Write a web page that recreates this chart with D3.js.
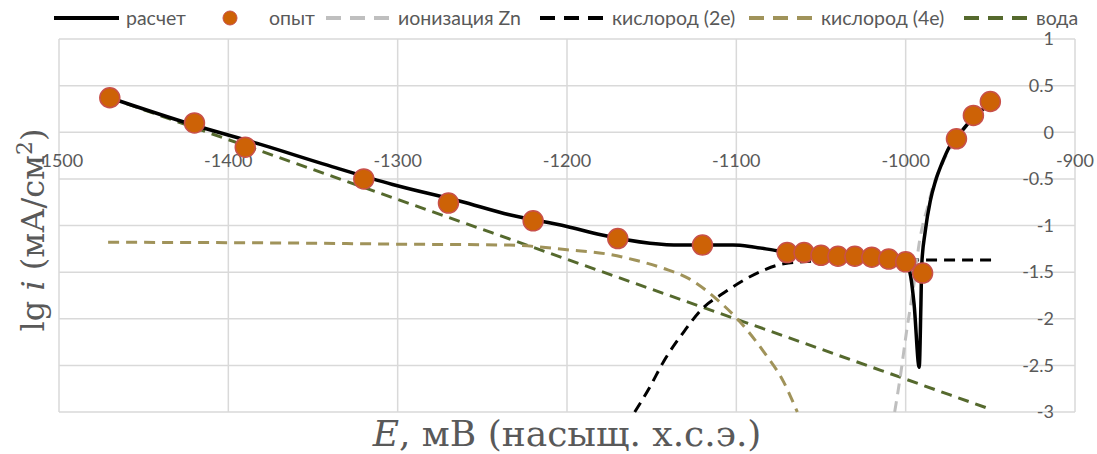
<!DOCTYPE html>
<html>
<head>
<meta charset="utf-8">
<script src="https://cdn.jsdelivr.net/npm/d3@7"></script>
<style>
  body { margin: 0; background: #fff; }
  svg { display: block; }
  text { font-family: Lato, "Open Sans", sans-serif; }
</style>
</head>
<body>
<svg id="chart" width="1097" height="454"></svg>
<script>
const width = 1097, height = 454;

// Axis ticks
const xTicks = [-1500, -1400, -1300, -1200, -1100, -1000, -900];
const yTicks = [1, 0.5, 0, -0.5, -1, -1.5, -2, -2.5, -3];

// опыт (experiment)
const expE = [-1470, -1420, -1390, -1320, -1270, -1220, -1170, -1120, -1070, -1060, -1050, -1040, -1030, -1020, -1010, -1000, -990, -970, -960, -950];
const expLgI = [0.37, 0.10, -0.16, -0.50, -0.76, -0.95, -1.14, -1.21, -1.29, -1.29, -1.32, -1.33, -1.33, -1.34, -1.36, -1.39, -1.51, -0.07, 0.18, 0.33];

// расчет (calculated)
const calcE = [-1470, -1421, -1381, -1342, -1303, -1263, -1234, -1200, -1180, -1151, -1133, -1102, -1090, -1076, -1060, -1040, -1020, -1005, -1000, -997, -995, -992, -991, -990.5, -988.5, -985.5, -982.5, -978.5, -974, -967, -961, -952];
const calcLgI = [0.37, 0.08, -0.13, -0.35, -0.56, -0.74, -0.885, -1.01, -1.10, -1.19, -1.21, -1.21, -1.23, -1.27, -1.30, -1.33, -1.35, -1.37, -1.39, -1.55, -1.85, -2.52, -1.85, -1.42, -1.07, -0.74, -0.53, -0.33, -0.15, 0.01, 0.14, 0.28];

// ионизация Zn
const znE = [-1006.5, -1003, -999.5, -997, -994.5, -992.5, -990, -987, -984.5, -978, -973, -967, -960, -950];
const znLgI = [-3.0, -2.6, -2.14, -1.85, -1.55, -1.25, -1.0, -0.8, -0.62, -0.32, -0.15, 0.0, 0.15, 0.32];

// кислород (2е)
const o2E = [-1160, -1151, -1143, -1131, -1120, -1108, -1096, -1084, -1072, -1050, -1000, -949];
const o2LgI = [-3.0, -2.73, -2.46, -2.14, -1.89, -1.73, -1.59, -1.48, -1.41, -1.38, -1.37, -1.37];

// кислород (4е)
const o4E = [-1471, -1350, -1300, -1234, -1200, -1175, -1160, -1143, -1128, -1111, -1098, -1084, -1072, -1064];
const o4LgI = [-1.18, -1.19, -1.20, -1.21, -1.26, -1.31, -1.37, -1.46, -1.57, -1.80, -2.03, -2.35, -2.68, -3.0];

// вода
const waterE = [-1470, -1244, -1096, -950];
const waterLgI = [0.37, -1.08, -2.03, -2.97];

const legendItems = [
    { name: "расчет", type: "line", color: "#000", dash: null, w: 4 },
    { name: "опыт", type: "dot" },
    { name: "ионизация Zn", type: "line", color: "#bfbfbf", dash: "15,9", w: 4 },
    { name: "кислород (2е)", type: "line", color: "#000", dash: "15,9", w: 4 },
    { name: "кислород (4е)", type: "line", color: "#a0935a", dash: "15,9", w: 4 },
    { name: "вода", type: "line", color: "#55692d", dash: "15,9", w: 4 }
];
const legendX = [54, 218, 326, 540, 749, 964];

const svg = d3.select("#chart");

const x = d3.scaleLinear().domain([-1500, -900]).range([59, 1075]);
const y = d3.scaleLinear().domain([-3, 1]).range([412, 39]);

const zip = (a, b) => a.map((v, i) => [v, b[i]]);

// Gridlines
svg.append("g")
    .selectAll("line.v")
    .data(xTicks).enter().append("line")
    .attr("x1", d => x(d)).attr("x2", d => x(d))
    .attr("y1", y(1)).attr("y2", y(-3))
    .attr("stroke", "#d9d9d9").attr("stroke-width", 1.5);
svg.append("g")
    .selectAll("line.h")
    .data(yTicks).enter().append("line")
    .attr("x1", x(-1500)).attr("x2", x(-900))
    .attr("y1", d => y(d)).attr("y2", d => y(d))
    .attr("stroke", "#d9d9d9").attr("stroke-width", 1.5);

// X tick labels (below the y=0 axis)
svg.append("g")
    .selectAll("text")
    .data(xTicks).enter().append("text")
    .attr("x", d => x(d))
    .attr("y", y(0) + 35)
    .attr("text-anchor", "middle")
    .style("font-size", "18px")
    .style("fill", "#595959")
    .text(d => d);

// Y tick labels (left of the right axis)
svg.append("g")
    .selectAll("text")
    .data(yTicks).enter().append("text")
    .attr("x", x(-900) - 21)
    .attr("y", d => y(d))
    .attr("dy", "0.35em")
    .attr("text-anchor", "end")
    .style("font-size", "18px")
    .style("fill", "#595959")
    .text(d => d);

// Lines
const line = d3.line().x(d => x(d[0])).y(d => y(d[1])).curve(d3.curveMonotoneX);

function drawSeries(data, color, w, dash) {
    svg.append("path").datum(data)
        .attr("fill", "none")
        .attr("stroke", color)
        .attr("stroke-width", w)
        .attr("stroke-dasharray", dash)
        .attr("stroke-linejoin", "round")
        .attr("d", line);
}

drawSeries(zip(waterE, waterLgI), "#55692d", 3, "11,7");
drawSeries(zip(o4E, o4LgI), "#a0935a", 3, "11,7");
drawSeries(zip(o2E, o2LgI), "#000", 3, "11,7");
drawSeries(zip(znE, znLgI), "#bfbfbf", 3, "11,7");
drawSeries(zip(calcE, calcLgI), "#000", 3.5, null);

// Experimental points
svg.append("g")
    .selectAll("circle")
    .data(zip(expE, expLgI)).enter().append("circle")
    .attr("cx", d => x(d[0]))
    .attr("cy", d => y(d[1]))
    .attr("r", 10)
    .attr("fill", "#cd6206")
    .attr("stroke", "#c8504a")
    .attr("stroke-width", 1.5);

// Legend
const legend = svg.append("g").selectAll("g")
    .data(legendItems).enter().append("g")
    .attr("transform", (d, i) => `translate(${legendX[i]},18)`);

legend.filter(d => d.type === "line").append("line")
    .attr("x1", 0).attr("x2", 65)
    .attr("stroke", d => d.color)
    .attr("stroke-width", d => d.w)
    .attr("stroke-dasharray", d => d.dash);

legend.filter(d => d.type === "dot").append("circle")
    .attr("cx", 12).attr("r", 7)
    .attr("fill", "#cd6206").attr("stroke", "#c8504a");

legend.append("text")
    .attr("x", d => d.type === "dot" ? 51 : 72)
    .attr("dy", "0.35em")
    .style("font-size", "19.5px")
    .style("fill", "#595959")
    .text(d => d.name);

// Axis titles
svg.append("text")
    .attr("x", 567).attr("y", 446)
    .attr("text-anchor", "middle")
    .style("font-family", "'DejaVu Serif', 'Liberation Serif', serif")
    .style("font-size", "36px")
    .style("fill", "#595959")
    .html('<tspan font-style="italic">E</tspan>, мВ (насыщ. х.с.э.)');

svg.append("text")
    .attr("transform", "translate(44,230) rotate(-90)")
    .attr("text-anchor", "middle")
    .style("font-family", "'DejaVu Serif', 'Liberation Serif', serif")
    .style("font-size", "32px")
    .style("fill", "#595959")
    .html('lg <tspan font-style="italic">i</tspan> (мА/см<tspan dy="-12" font-size="22px">2</tspan><tspan dy="12">)</tspan>');
</script>
</body>
</html>
